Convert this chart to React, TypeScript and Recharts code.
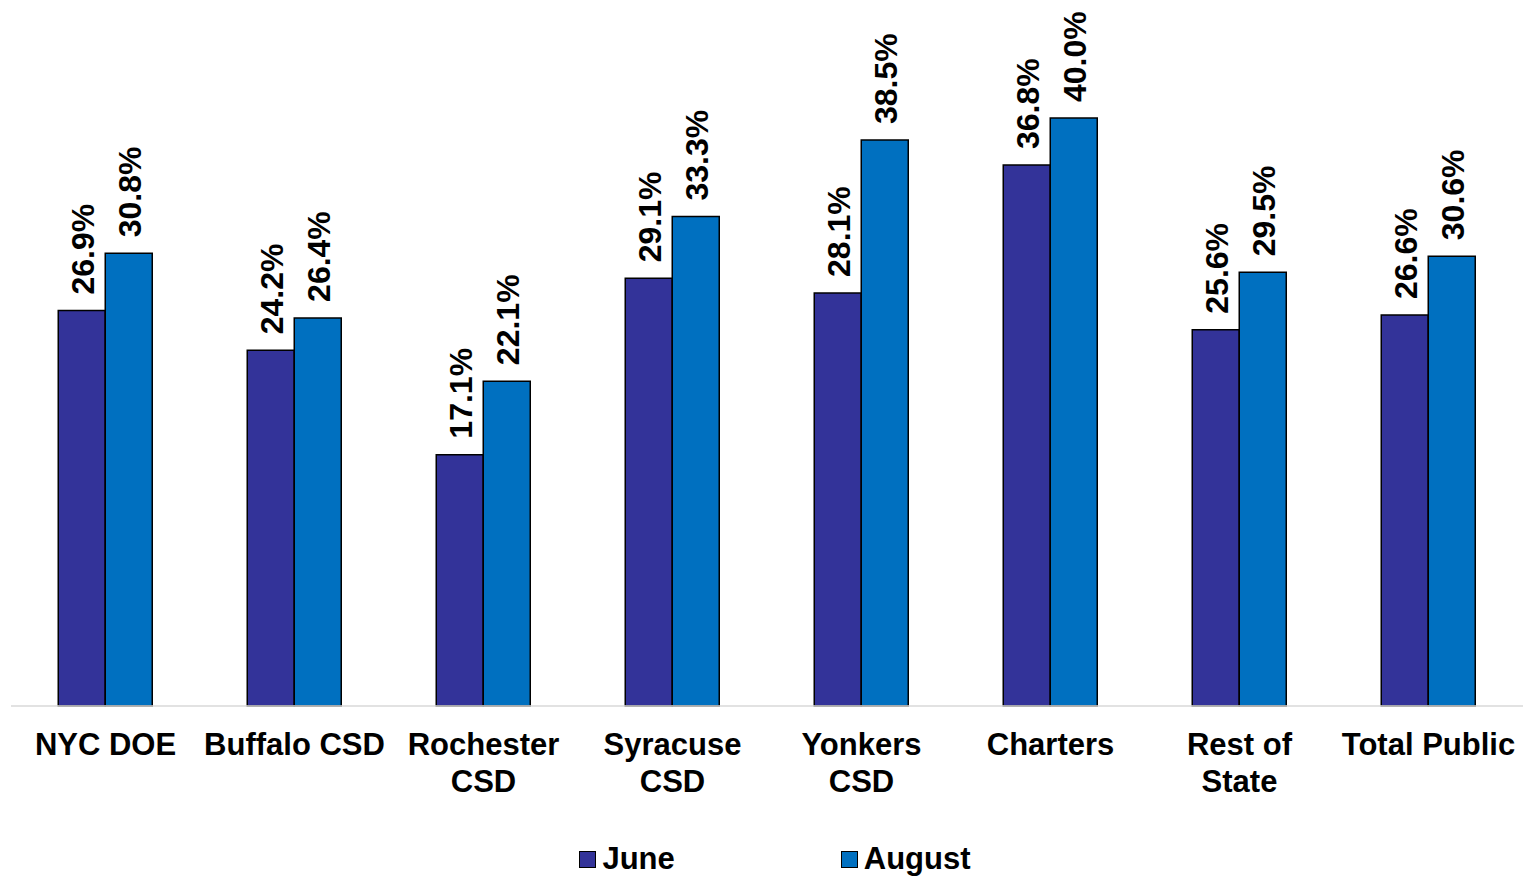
import { BarChart, Bar, XAxis, YAxis, Legend } from 'recharts';

const categories = ['NYC DOE', 'Buffalo CSD', 'Rochester\nCSD', 'Syracuse\nCSD', 'Yonkers\nCSD', 'Charters', 'Rest of\nState', 'Total Public'];
const june = [26.9, 24.2, 17.1, 29.1, 28.1, 36.8, 25.6, 26.6];
const august = [30.8, 26.4, 22.1, 33.3, 38.5, 40.0, 29.5, 30.6];

const data = categories.map((name, i) => ({ name, june: june[i], august: august[i] }));

const FONT = '"Liberation Sans", Arial, sans-serif';
const JUNE_COLOR = '#333399';
const AUG_COLOR = '#0070C0';

function CategoryTick({ x, y, payload }: any) {
    const lines = String(payload.value).split('\n');
    return (
        <text x={x} y={y} textAnchor="middle" fontFamily={FONT} fontWeight="bold" fontSize={31} fill="#000">
            {lines.map((l, i) => (
                <tspan key={i} x={x} dy={i === 0 ? 49 : 37}>{l}</tspan>
            ))}
        </text>
    );
}

function ValueLabel({ x, y, width, value }: any) {
    const cx = x + width / 2 + 1;
    const ty = y - 16;
    return (
        <text
            x={cx}
            y={ty}
            transform={`rotate(-90, ${cx}, ${ty})`}
            textAnchor="start"
            dominantBaseline="central"
            fontFamily={FONT}
            fontWeight="bold"
            fontSize={32}
            fill="#000"
        >
            {Number(value).toFixed(1)}%
        </text>
    );
}

function LegendBox() {
    const item = (color: string, label: string, mr: number) => (
        <div style={{ display: 'flex', alignItems: 'center', marginRight: mr }}>
            <div style={{ width: 15, height: 15, background: color, border: '1.5px solid #000', marginRight: 6 }} />
            <span style={{ fontFamily: FONT, fontWeight: 'bold', fontSize: 31, color: '#000' }}>{label}</span>
        </div>
    );
    return (
        <div style={{ display: 'flex', justifyContent: 'center', alignItems: 'center', height: 40, paddingLeft: 16, paddingTop: 6, boxSizing: 'border-box' }}>
            {item(JUNE_COLOR, 'June', 166)}
            {item(AUG_COLOR, 'August', 0)}
        </div>
    );
}

export default function App() {
    return (
        <div style={{ position: 'absolute', left: 0, top: 0, background: '#fff' }}>
            <BarChart
                width={1523}
                height={876}
                data={data}
                margin={{ top: 118, right: 0, left: 11, bottom: 0 }}
                barCategoryGap="25%"
                barGap={0}
            >
                <XAxis
                    dataKey="name"
                    interval={0}
                    tick={<CategoryTick />}
                    tickLine={false}
                    tickSize={0}
                    tickMargin={0}
                    height={130}
                    axisLine={{ stroke: '#d9d9d9', strokeWidth: 1.5 }}
                />
                <YAxis hide domain={[0, 40]} />
                <Legend verticalAlign="bottom" height={40} content={<LegendBox />} />
                <Bar dataKey="june" name="June" fill={JUNE_COLOR} stroke="#000" strokeWidth={1.5} isAnimationActive={false} label={<ValueLabel />} />
                <Bar dataKey="august" name="August" fill={AUG_COLOR} stroke="#000" strokeWidth={1.5} isAnimationActive={false} label={<ValueLabel />} />
            </BarChart>
        </div>
    );
}
